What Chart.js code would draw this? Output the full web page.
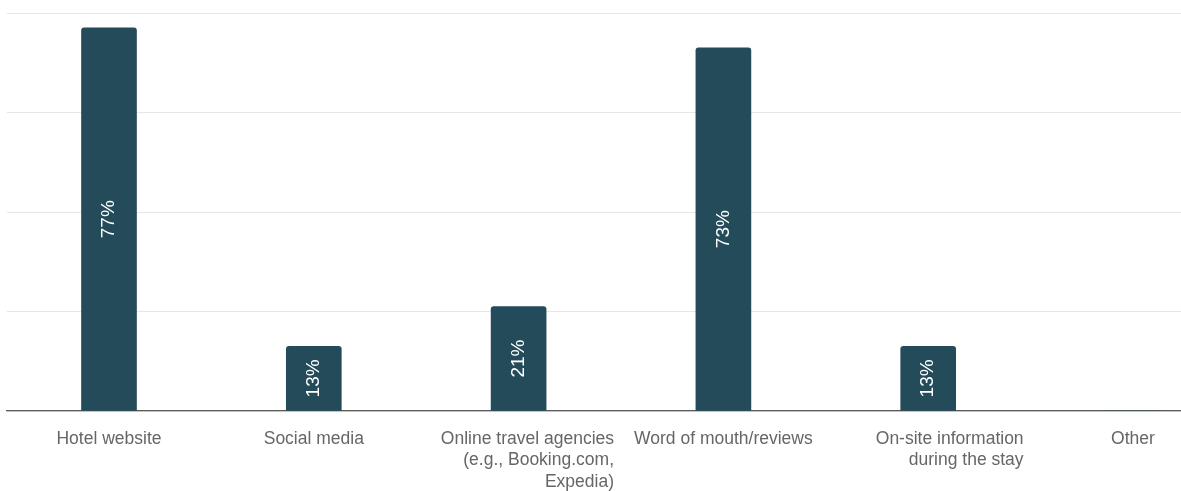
<!DOCTYPE html>
<html>
<head>
<meta charset="utf-8">
<script src="https://cdn.jsdelivr.net/npm/chart.js@4.4.1/dist/chart.umd.min.js"></script>
<style>
  html, body { margin: 0; padding: 0; background: #fff; overflow: hidden; }
  #wrap { width: 1236px; height: 491px; }
</style>
</head>
<body>
<div id="wrap"><canvas id="chartCanvas"></canvas></div>
<script>
// Categorias (una linea por elemento) y porcentajes
const categorias = [
  ['Hotel website'],
  ['Social media'],
  ['Online travel agencies', '(e.g., Booking.com,', 'Expedia)'],
  ['Word of mouth/reviews'],
  ['On-site information', 'during the stay'],
  ['Other']
];
const valores = [77, 13, 21, 73, 13, 0];
const ticksY = [0, 20, 40, 60, 80];

const colorBarra = '#234b5a';
const fuente = '"Liberation Sans", Arial, sans-serif';

// Etiquetas del eje X (alineadas a la derecha cuando ocupan varias lineas)
const etiquetasX = {
  id: 'etiquetasX',
  afterDraw(chart) {
    const ctx = chart.ctx;
    const x = chart.scales.x;
    const paso = x.getPixelForValue(1) - x.getPixelForValue(0);
    const base = chart.chartArea.bottom;
    ctx.save();
    ctx.fillStyle = '#666666';
    ctx.font = '17.5px ' + fuente;
    ctx.textBaseline = 'middle';
    categorias.forEach((lineas, i) => {
      const cx = x.getPixelForValue(i);
      let px = cx;
      if (lineas.length > 1) {
        ctx.textAlign = 'right';
        px = cx + paso / 2 - 7;
      } else {
        ctx.textAlign = 'center';
      }
      lineas.forEach((t, j) => {
        ctx.fillText(t, px, base + 28 + j * 21.5);
      });
    });
    ctx.restore();
  }
};

// Porcentaje girado dentro de cada barra
const valoresBarras = {
  id: 'valoresBarras',
  afterDatasetsDraw(chart) {
    const ctx = chart.ctx;
    const meta = chart.getDatasetMeta(0);
    ctx.save();
    ctx.fillStyle = '#ffffff';
    ctx.font = '19px ' + fuente;
    ctx.textAlign = 'center';
    ctx.textBaseline = 'middle';
    meta.data.forEach((bar, i) => {
      const v = valores[i];
      if (!v) return;
      ctx.save();
      ctx.translate(bar.x, (bar.y + bar.base) / 2);
      ctx.rotate(-Math.PI / 2);
      ctx.fillText(v + '%', 0, 0);
      ctx.restore();
    });
    ctx.restore();
  }
};

new Chart(document.getElementById('chartCanvas'), {
  type: 'bar',
  data: {
    labels: categorias.map(c => c.join(' ')),
    datasets: [{
      data: valores,
      backgroundColor: colorBarra,
      borderRadius: { topLeft: 3, topRight: 3 },
      borderSkipped: 'bottom',
      barThickness: 55
    }]
  },
  options: {
    responsive: true,
    maintainAspectRatio: false,
    animation: false,
    layout: { padding: { left: 6.6, right: 0.6, top: 13, bottom: 80 } },
    plugins: {
      legend: { display: false },
      tooltip: { enabled: false }
    },
    scales: {
      x: {
        grid: { display: false, drawTicks: false },
        ticks: { display: false },
        border: { color: '#5c5c5c', width: 1.3 }
      },
      y: {
        min: ticksY[0],
        max: ticksY[ticksY.length - 1],
        afterBuildTicks: axis => { axis.ticks = ticksY.map(v => ({ value: v })); },
        ticks: { display: false },
        grid: { color: '#e6e6e6', lineWidth: 1, drawTicks: false },
        border: { display: false }
      }
    }
  },
  plugins: [etiquetasX, valoresBarras]
});
</script>
</body>
</html>
